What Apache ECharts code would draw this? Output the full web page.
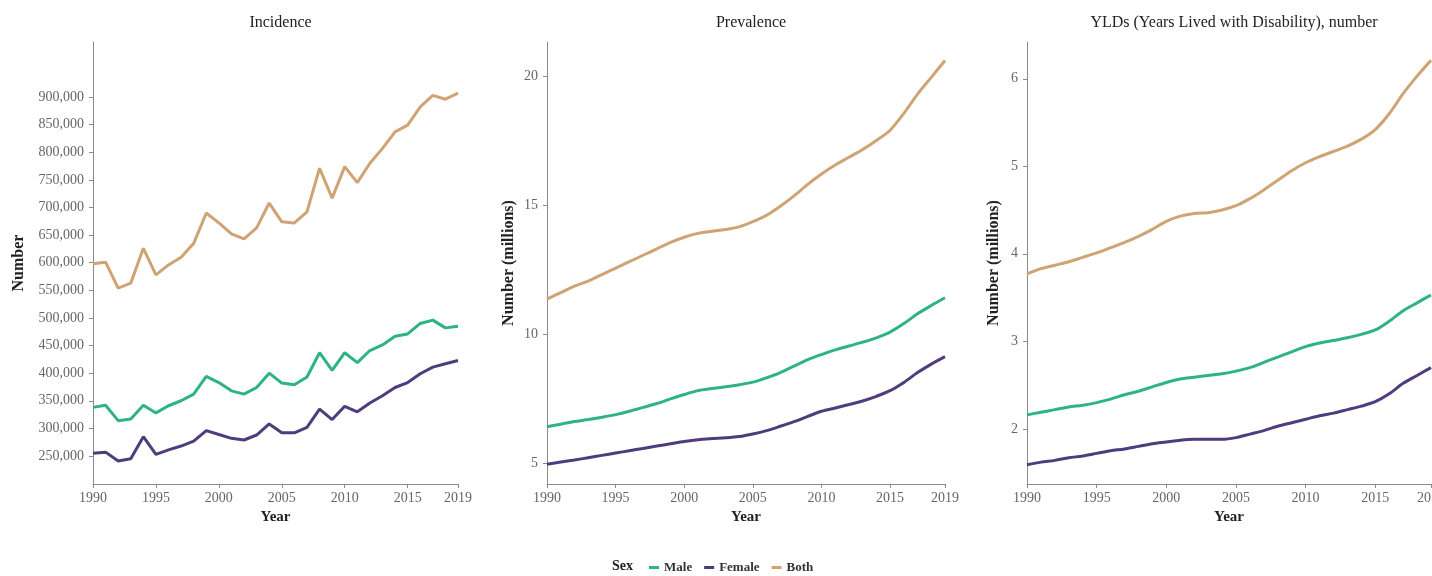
<!DOCTYPE html>
<html>
<head>
<meta charset="utf-8">
<script src="https://cdn.jsdelivr.net/npm/echarts@6/dist/echarts.min.js"></script>
<style>
html,body{margin:0;padding:0;background:#fff;}
#c{width:1432px;height:576px;}
</style>
</head>
<body>
<div id="c"></div>
<script>
// ---- data ----
var years = [1990,1991,1992,1993,1994,1995,1996,1997,1998,1999,2000,2001,2002,2003,2004,2005,2006,2007,2008,2009,2010,2011,2012,2013,2014,2015,2016,2017,2018,2019];
var xTicks = [1990,1995,2000,2005,2010,2015,2019];

var incMale   = [338000,342000,314000,317000,342000,328000,341000,350000,362000,394000,383000,368000,362000,374000,400000,382000,379000,393000,437000,405000,437000,419000,441000,451000,467000,471000,490000,496000,482000,485000];
var incFemale = [255000,257000,241000,245000,285000,253000,261000,268000,277000,296000,289000,282000,279000,288000,308000,292000,292000,302000,335000,316000,340000,330000,346000,359000,374000,383000,399000,411000,417000,423000];
var incBoth   = [598000,601000,554000,563000,626000,578000,596000,610000,635000,690000,672000,652000,643000,663000,708000,674000,672000,692000,771000,717000,774000,745000,780000,807000,837000,849000,882000,903000,896000,907000];
var incTicks  = [250000,300000,350000,400000,450000,500000,550000,600000,650000,700000,750000,800000,850000,900000];

var prevMale   = [6.40,6.50,6.60,6.68,6.77,6.87,7.00,7.15,7.30,7.48,7.65,7.80,7.88,7.95,8.03,8.13,8.30,8.50,8.75,9.00,9.20,9.38,9.53,9.68,9.85,10.07,10.40,10.78,11.10,11.40];
var prevFemale = [4.95,5.03,5.11,5.20,5.29,5.38,5.47,5.56,5.65,5.74,5.83,5.90,5.94,5.97,6.02,6.12,6.25,6.42,6.60,6.80,7.00,7.13,7.26,7.40,7.58,7.80,8.12,8.50,8.83,9.12];
var prevBoth   = [11.35,11.60,11.85,12.05,12.30,12.55,12.80,13.05,13.30,13.55,13.75,13.90,13.98,14.05,14.15,14.35,14.60,14.95,15.35,15.80,16.20,16.55,16.85,17.15,17.50,17.90,18.55,19.30,19.95,20.60];
var prevTicks  = [5,10,15,20];

var yldMale   = [2.16,2.19,2.22,2.25,2.27,2.30,2.34,2.39,2.43,2.48,2.53,2.57,2.59,2.61,2.63,2.66,2.70,2.76,2.82,2.88,2.94,2.98,3.01,3.04,3.08,3.13,3.23,3.35,3.44,3.53];
var yldFemale = [1.59,1.62,1.64,1.67,1.69,1.72,1.75,1.77,1.80,1.83,1.85,1.87,1.88,1.88,1.88,1.90,1.94,1.98,2.03,2.07,2.11,2.15,2.18,2.22,2.26,2.31,2.40,2.52,2.61,2.70];
var yldBoth   = [3.77,3.83,3.87,3.91,3.96,4.01,4.07,4.13,4.20,4.28,4.37,4.43,4.46,4.47,4.50,4.55,4.63,4.73,4.84,4.95,5.04,5.11,5.17,5.23,5.31,5.42,5.60,5.83,6.03,6.21];
var yldTicks  = [2,3,4,5,6];

var titles = ['Incidence','Prevalence','YLDs (Years Lived with Disability), number'];
var yNames = ['Number','Number (millions)','Number (millions)'];
var sexNames = ['Male','Female','Both'];
var colors = {Male:'#2EB384', Female:'#4E3C7C', Both:'#CFA373'};

// ---- build ----
var FONT = 'Liberation Serif';
function pairs(arr){ return years.map(function(y,i){ return [y, arr[i]]; }); }

var grids = [
  {left:93, right:974, top:42, bottom:92, outerBoundsMode:'none', containLabel:false},
  {left:547, right:487, top:42, bottom:92, outerBoundsMode:'none', containLabel:false},
  {left:1027, right:1, top:42, bottom:92, outerBoundsMode:'none', containLabel:false}
];
var yRanges = [[199300,999600],[4.18,21.32],[1.37,6.42]];
var yTickSets = [incTicks, prevTicks, yldTicks];
var nameGaps = [66,30,25];
var dataSets = [[incMale,incFemale,incBoth],[prevMale,prevFemale,prevBoth],[yldMale,yldFemale,yldBoth]];

var axisLineStyle = {color:'#8a8a8a', width:1};
var xAxes = [], yAxes = [], series = [], titleArr = [];
for (var g=0; g<3; g++){
  var gr = grids[g];
  titleArr.push({
    text: titles[g], left: (gr.left + (1432-gr.right))/2, top: 10, textAlign:'center',
    textStyle:{fontFamily:FONT, fontSize:16, fontWeight:'normal', color:'#222'}
  });
  xAxes.push({
    type:'value', gridIndex:g, min:1990, max:2019,
    name:'Year', nameLocation:'middle', nameGap:26,
    nameTextStyle:{fontFamily:FONT, fontSize:15, fontWeight:'bold', color:'#222'},
    axisLine:{show:true, lineStyle:axisLineStyle},
    axisTick:{show:true, length:4, lineStyle:axisLineStyle, customValues:xTicks},
    axisLabel:{fontFamily:FONT, fontSize:14, color:'#666', margin:7, customValues:xTicks,
      hideOverlap:false, showMaxLabel:true, showMinLabel:true,
      formatter:function(v){ return String(v); }},
    splitLine:{show:false}
  });
  (function(g){
    yAxes.push({
      type:'value', gridIndex:g, min:yRanges[g][0], max:yRanges[g][1],
      name:yNames[g], nameLocation:'middle', nameGap:nameGaps[g], nameRotate:90,
      nameTextStyle:{fontFamily:FONT, fontSize:16, fontWeight:'bold', color:'#222'},
      axisLine:{show:true, lineStyle:axisLineStyle},
      axisTick:{show:true, length:4, lineStyle:axisLineStyle, customValues:yTickSets[g]},
      axisLabel:{fontFamily:FONT, fontSize:14, color:'#666', margin:9, customValues:yTickSets[g],
        formatter:function(v){ return g===0 ? Number(v).toLocaleString('en-US') : String(v); }},
      splitLine:{show:false}
    });
  })(g);
  for (var s=0; s<3; s++){
    series.push({
      type:'line', name:sexNames[s], xAxisIndex:g, yAxisIndex:g,
      data:pairs(dataSets[g][s]), showSymbol:false, symbol:'none',
      smooth: g===0 ? false : 0.3,
      lineStyle:{width:3, color:colors[sexNames[s]]},
      itemStyle:{color:colors[sexNames[s]]},
      z: s===2 ? 3 : 2
    });
  }
}

var chart = echarts.init(document.getElementById('c'), null, {renderer:'canvas'});
chart.setOption({
  backgroundColor:'#fff',
  animation:false,
  title: titleArr,
  grid: grids,
  xAxis: xAxes,
  yAxis: yAxes,
  legend:{
    data: sexNames, left:644, top:556, itemWidth:10, itemHeight:3, itemGap:12,
    icon:'rect',
    textStyle:{fontFamily:FONT, fontSize:13, fontWeight:'bold', color:'#333'}
  },
  graphic:[{
    type:'text', left:612, top:559,
    style:{text:'Sex', font:'bold 14px "Liberation Serif"', fill:'#222'}
  }],
  series: series
});
</script>
</body>
</html>
